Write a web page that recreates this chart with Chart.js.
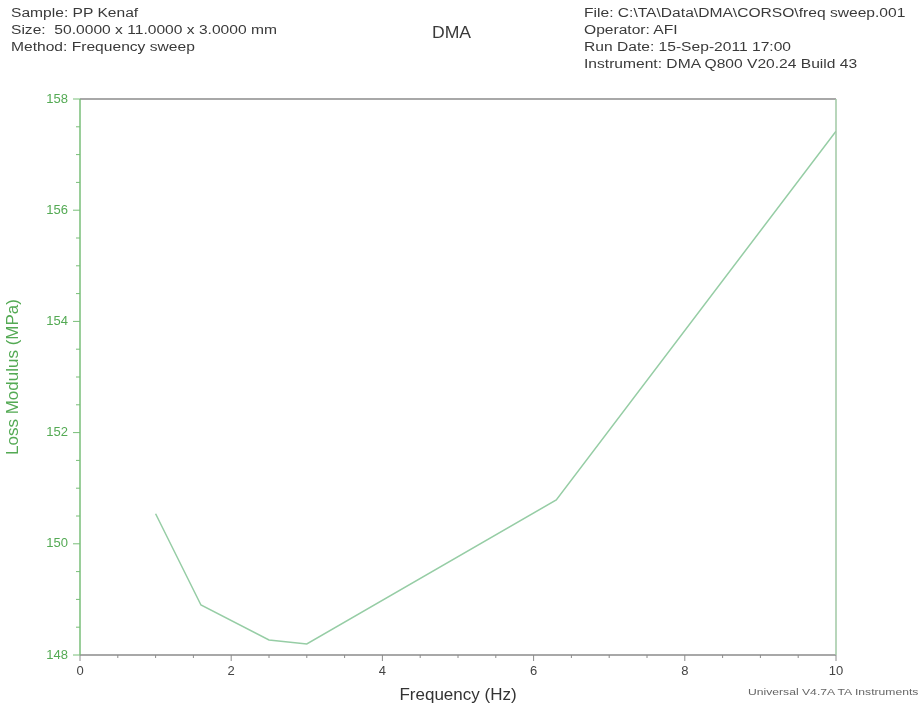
<!DOCTYPE html>
<html>
<head>
<meta charset="utf-8">
<script src="https://cdn.jsdelivr.net/npm/chart.js@4.4.0/dist/chart.umd.min.js"></script>
<style>
  body { margin: 0; background: #fff; font-family: "Liberation Sans", Arial, sans-serif; }
  #wrap { position: relative; width: 921px; height: 711px; }
  canvas { position: absolute; left: 0; top: 0; }
  .hdr { position: absolute; font-size: 12px; color: #3a3a3a; line-height: 17px; white-space: pre;
         transform: scaleX(1.3); transform-origin: left top; }
</style>
</head>
<body>
<div id="wrap">
  <canvas id="chart" width="921" height="711"></canvas>
  <div class="hdr" style="left:11px;top:5px;">Sample: PP Kenaf
Size:  50.0000 x 11.0000 x 3.0000 mm
Method: Frequency sweep</div>
  <div class="hdr" style="left:432px;top:24px;font-size:16px;transform:scaleX(1.1);">DMA</div>
  <div class="hdr" style="left:584px;top:5px;">File: C:\TA\Data\DMA\CORSO\freq sweep.001
Operator: AFI
Run Date: 15-Sep-2011 17:00
Instrument: DMA Q800 V20.24 Build 43</div>
  <div class="hdr" style="left:748px;top:684px;font-size:9px;color:#666;transform:scaleX(1.35);">Universal V4.7A TA Instruments</div>
</div>
<script>
  // values
  const frequency = [1.0, 1.6, 2.5, 3.0, 6.3, 10.0];
  const lossModulus = [150.54, 148.9, 148.27, 148.2, 150.79, 157.42];
  const xMajorTicks = [0, 2, 4, 6, 8, 10];
  const yMajorTicks = [148, 150, 152, 154, 156, 158];

  const GREEN = "rgb(84, 170, 84)";
  const LINE_GREEN = "rgb(150, 205, 165)";
  const GRAY = "rgb(140, 140, 140)";

  // frame and tick marks, drawn from the chart's scales
  const frameTicks = {
    id: "frameTicks",
    afterDraw(chart) {
      const { ctx, chartArea: a, scales: { x, y } } = chart;
      ctx.save();
      ctx.lineWidth = 1.5;
      ctx.strokeStyle = GRAY;
      ctx.beginPath();
      ctx.moveTo(a.left, a.top); ctx.lineTo(a.right, a.top);
      ctx.moveTo(a.left, a.bottom); ctx.lineTo(a.right, a.bottom);
      ctx.stroke();
      ctx.strokeStyle = "rgb(160, 200, 165)";
      ctx.beginPath();
      ctx.moveTo(a.right, a.top); ctx.lineTo(a.right, a.bottom);
      ctx.stroke();
      ctx.strokeStyle = "rgb(120, 190, 120)";
      ctx.beginPath();
      ctx.moveTo(a.left, a.top); ctx.lineTo(a.left, a.bottom);
      ctx.stroke();

      ctx.lineWidth = 1;
      ctx.strokeStyle = GRAY;
      ctx.beginPath();
      for (let v = x.min; v <= x.max + 1e-9; v += 0.5) {
        let px = x.getPixelForValue(v);
        let len = xMajorTicks.includes(v) ? 6 : 3;
        ctx.moveTo(px, a.bottom); ctx.lineTo(px, a.bottom + len);
      }
      ctx.stroke();
      ctx.strokeStyle = "rgb(120, 190, 120)";
      ctx.beginPath();
      for (let v = y.min; v <= y.max + 1e-9; v += 0.5) {
        let py = y.getPixelForValue(v);
        let len = yMajorTicks.includes(v) ? 7 : 4;
        ctx.moveTo(a.left, py); ctx.lineTo(a.left - len, py);
      }
      ctx.stroke();
      ctx.restore();
    }
  };

  let points = frequency.map((f, i) => ({ x: f, y: lossModulus[i] }));

  new Chart(document.getElementById("chart"), {
    type: "scatter",
    data: {
      datasets: [{
        data: points,
        showLine: true,
        borderColor: LINE_GREEN,
        borderWidth: 1.5,
        pointRadius: 0,
        tension: 0
      }]
    },
    options: {
      responsive: false,
      animation: false,
      layout: { padding: { left: 0, top: 99, right: 85, bottom: 0 } },
      plugins: { legend: { display: false }, tooltip: { enabled: false } },
      scales: {
        x: {
          type: "linear",
          min: 0,
          max: 10,
          afterFit: (s) => { s.height = 56; },
          afterBuildTicks: (s) => { s.ticks = xMajorTicks.map(v => ({ value: v })); },
          grid: { display: false },
          border: { display: false },
          ticks: {
            padding: 1,
            color: "#444",
            font: { family: "Liberation Sans", size: 13 }
          },
          title: {
            display: true,
            text: "Frequency (Hz)",
            color: "#333",
            padding: { top: 0, bottom: 5 },
            font: { family: "Liberation Sans", size: 17 }
          }
        },
        y: {
          min: 148,
          max: 158,
          afterFit: (s) => { s.width = 80; },
          afterBuildTicks: (s) => { s.ticks = yMajorTicks.map(v => ({ value: v })); },
          grid: { display: false },
          border: { display: false },
          ticks: {
            padding: 4,
            color: GREEN,
            font: { family: "Liberation Sans", size: 13 }
          },
          title: {
            display: true,
            text: "Loss Modulus (MPa)",
            color: GREEN,
            padding: { top: 3, bottom: 0 },
            font: { family: "Liberation Sans", size: 17 }
          }
        }
      }
    },
    plugins: [frameTicks]
  });
</script>
</body>
</html>
